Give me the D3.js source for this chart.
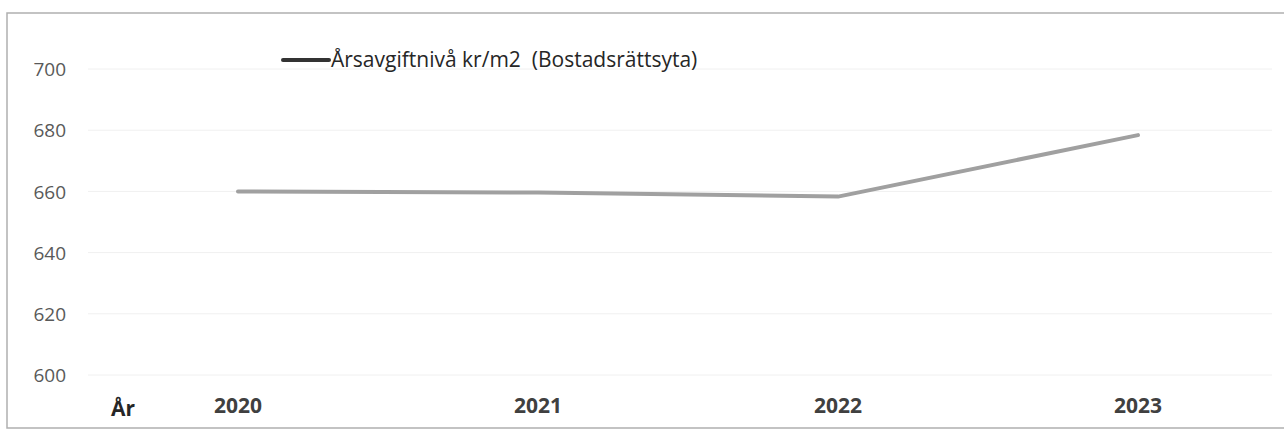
<!DOCTYPE html>
<html>
<head>
<meta charset="utf-8">
<script src="https://cdn.jsdelivr.net/npm/d3@7"></script>
<style>
  body { margin: 0; background: #fff; }
  svg text { font-family: "Open Sans", "Noto Sans", sans-serif; white-space: pre; }
</style>
</head>
<body>
<div id="chart"></div>
<script>
var years = ["2020", "2021", "2022", "2023"];
var values = [660, 659.6, 658.3, 678.4];
var yTicks = [600, 620, 640, 660, 680, 700];
var seriesName = "Årsavgiftnivå kr/m2  (Bostadsrättsyta)";
var axisTitle = "År";

var svgWidth = 1284;
var svgHeight = 432;

var svg = d3.select("#chart")
  .append("svg")
  .attr("width", svgWidth)
  .attr("height", svgHeight);

// frame
svg.append("path")
  .attr("d", "M1284,13 L7,13 L7,428 L1284,428")
  .attr("fill", "none")
  .attr("stroke", "#b0b0b0")
  .attr("stroke-width", 1.5);

var xScale = d3.scaleBand()
  .domain(years)
  .range([88, 1288]);

var yScale = d3.scaleLinear()
  .domain([600, 700])
  .range([375, 69]);

// gridlines
svg.append("g")
  .selectAll("line")
  .data(yTicks)
  .enter()
  .append("line")
  .attr("x1", 88)
  .attr("x2", 1272)
  .attr("y1", d => yScale(d))
  .attr("y2", d => yScale(d))
  .attr("stroke", "#f0f0f0")
  .attr("stroke-width", 1);

// y axis labels
var leftAxis = d3.axisLeft(yScale).tickValues(yTicks).tickSize(0).tickPadding(0);
var yAxis = svg.append("g")
  .attr("transform", "translate(66,0)")
  .call(leftAxis);
yAxis.select(".domain").remove();
yAxis.selectAll("text")
  .attr("font-size", "19px")
  .attr("font-family", "Open Sans, sans-serif")
  .attr("fill", "#595959")
  .attr("dy", "0.35em");

// x axis labels
var bottomAxis = d3.axisBottom(xScale).tickSize(0).tickPadding(0);
var xAxis = svg.append("g")
  .attr("transform", "translate(0,398)")
  .call(bottomAxis);
xAxis.select(".domain").remove();
xAxis.selectAll("text")
  .attr("font-size", "21px")
  .attr("font-weight", "bold")
  .attr("font-family", "Open Sans, sans-serif")
  .attr("fill", "#404040")
  .attr("dy", "0.72em");

svg.append("text")
  .attr("x", 111)
  .attr("y", 416)
  .attr("font-size", "21px")
  .attr("font-weight", "bold")
  .attr("fill", "#262626")
  .text(axisTitle);

// line
var line = d3.line()
  .x((d, i) => xScale(years[i]) + xScale.bandwidth() / 2)
  .y(d => yScale(d));

svg.append("path")
  .datum(values)
  .attr("d", line)
  .attr("fill", "none")
  .attr("stroke", "#a0a0a0")
  .attr("stroke-width", 4)
  .attr("stroke-linecap", "round")
  .attr("stroke-linejoin", "round");

// legend
svg.append("line")
  .attr("x1", 283)
  .attr("x2", 329)
  .attr("y1", 60)
  .attr("y2", 60)
  .attr("stroke", "#333")
  .attr("stroke-width", 4)
  .attr("stroke-linecap", "round");

svg.append("text")
  .attr("x", 331)
  .attr("y", 60)
  .attr("dy", "0.35em")
  .attr("font-size", "21px")
  .attr("fill", "#262626")
  .text(seriesName);
</script>
</body>
</html>
